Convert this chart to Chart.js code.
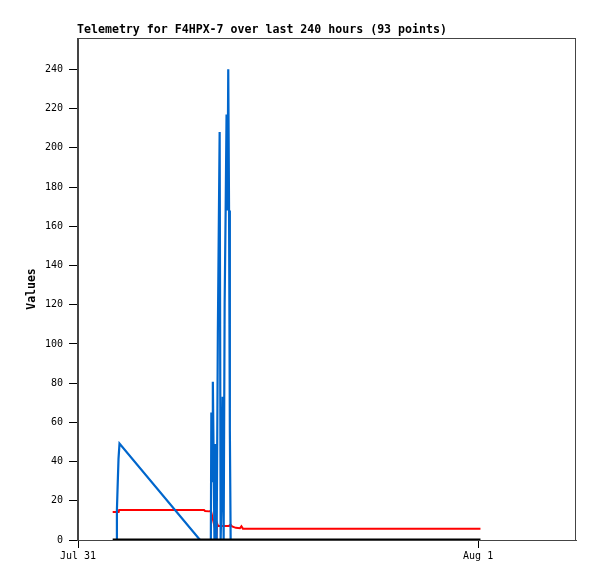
<!DOCTYPE html>
<html>
<head>
<meta charset="utf-8">
<script src="https://cdn.jsdelivr.net/npm/chart.js@4"></script>
<style>
html,body{margin:0;padding:0;background:#fff;}
#wrap{width:597px;height:579px;}
</style>
</head>
<body>
<div id="wrap"><canvas id="c" width="597" height="579"></canvas></div>
<script>
// Hours since Jul 31 00:00
const titleText = 'Telemetry for F4HPX-7 over last 240 hours (93 points)';
const yTicks = [0,20,40,60,80,100,120,140,160,180,200,220,240];
const xTickValues = [0, 24];
const xTickLabels = ['Jul 31', 'Aug 1'];

const blueX = [2.30, 2.334, 2.370, 2.430, 2.490, 7.32, 7.968, 7.998, 8.052, 8.088, 8.136, 8.184, 8.256, 8.316, 8.388, 8.496, 8.556, 8.616, 8.676, 8.736, 8.796, 8.856, 8.91, 8.964, 9.012, 9.06, 9.108, 9.156];
const blueY = [0, 15.2, 25.4, 41.5, 49.2, 0, 0, 65, 30, 80.7, 41, 0, 49, 0, 105, 208, 0, 25, 73, 0, 121, 168, 217, 168, 240, 168, 56, 0];

const redX = [2.08, 2.44, 2.47, 7.56, 7.62, 7.86, 7.98, 8.31, 8.34, 8.40, 9.06, 9.15, 9.24, 9.47, 9.71, 9.80, 9.89, 24.14];
const redY = [14.3, 14.3, 15.3, 15.3, 14.8, 14.6, 14.6, 2.5, 8.5, 7.2, 7.2, 7.8, 6.9, 6.2, 6.0, 7.0, 5.8, 5.7];

const blackX = [2.08, 24.14];
const blackY = [0, 0];

const toPts = (xs, ys) => xs.map((x, i) => ({x: x, y: ys[i]}));
const MONO = '"DejaVu Sans Mono", "Liberation Mono", monospace';

const framePlugin = {
  id: 'frame',
  beforeDatasetsDraw(chart) {
    const {ctx, chartArea: a} = chart;
    ctx.save();
    ctx.strokeStyle = '#444';
    ctx.lineWidth = 1;
    ctx.strokeRect(Math.round(a.left) - 0.5, Math.round(a.top) + 0.5, Math.round(a.right - a.left), Math.round(a.bottom - a.top));
    ctx.restore();
  },
  afterDraw(chart) {
    const {ctx, chartArea: a} = chart;
    ctx.save();
    ctx.fillStyle = '#000';
    ctx.font = 'bold 11.6px ' + MONO;
    ctx.textAlign = 'left';
    ctx.textBaseline = 'bottom';
    ctx.fillText(titleText, a.left - 1, a.top - 2);
    ctx.restore();
  }
};

new Chart(document.getElementById('c'), {
  type: 'line',
  data: {
    datasets: [
      {data: toPts(blackX, blackY), borderColor: '#000000', borderWidth: 3, pointRadius: 0, tension: 0, fill: false},
      {data: toPts(blueX, blueY), borderColor: '#0066cc', borderWidth: 2.2, pointRadius: 0, tension: 0, fill: false},
      {data: toPts(redX, redY), borderColor: '#ff0000', borderWidth: 2, pointRadius: 0, tension: 0, fill: false}
    ]
  },
  options: {
    responsive: false,
    animation: false,
    events: [],
    layout: {padding: {top: 38, right: 21, left: 0, bottom: 0}},
    plugins: {legend: {display: false}, title: {display: false}, tooltip: {enabled: false}},
    scales: {
      x: {
        type: 'linear',
        min: 0,
        max: 29.87,
        afterBuildTicks: s => { s.ticks = xTickValues.map(v => ({value: v})); },
        afterFit: s => { s.height = 39; },
        grid: {drawOnChartArea: false, drawTicks: true, tickLength: 8, color: '#000'},
        border: {display: true, color: '#444'},
        ticks: {
          autoSkip: false, maxRotation: 0, padding: 2, color: '#000',
          font: {family: MONO, size: 10},
          callback: (v, i) => xTickLabels[i]
        }
      },
      y: {
        type: 'linear',
        min: 0,
        max: 256,
        afterBuildTicks: s => { s.ticks = yTicks.map(v => ({value: v})); },
        afterFit: s => { s.width = 78; },
        grid: {drawOnChartArea: false, drawTicks: true, tickLength: 9, color: '#000'},
        border: {display: true, color: '#444'},
        ticks: {padding: 6, color: '#000', font: {family: MONO, size: 10}},
        title: {display: true, text: 'Values', color: '#000', font: {family: MONO, size: 11.5, weight: 'bold'}, padding: {top: 25, bottom: 0}}
      }
    }
  },
  plugins: [framePlugin]
});
</script>
</body>
</html>
